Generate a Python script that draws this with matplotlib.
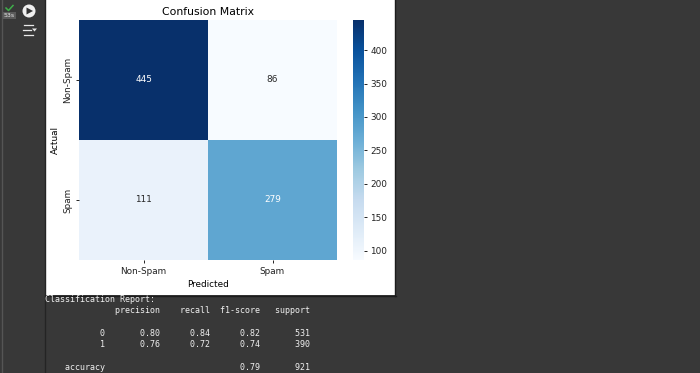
import matplotlib
matplotlib.use("Agg")
import matplotlib.pyplot as plt
from matplotlib.patches import Rectangle, Circle, Polygon
from matplotlib.lines import Line2D
import numpy as np
import seaborn as sns

labels = ["Non-Spam", "Spam"]
matrix = [[445, 86], [111, 279]]
title = "Confusion Matrix"
xlabel = "Predicted"
ylabel = "Actual"
report_lines = [
    "Classification Report:",
    "              precision    recall  f1-score   support",
    "",
    "           0       0.80      0.84      0.82       531",
    "           1       0.76      0.72      0.74       390",
    "",
    "    accuracy                           0.79       921",
]

W, H = 700, 373
BG = "#383838"
TXT = "#f0f0f0"
FS = 6.4

def X(px):
    return px / W

def Y(py):
    return 1 - py / H

fig = plt.figure(figsize=(7.0, 3.73), dpi=100, facecolor=BG)
fig.add_artist(Rectangle((X(45), Y(295)), 350 / W, 295 / H, transform=fig.transFigure,
                         facecolor="white", edgecolor="none", zorder=-1))
fig.add_artist(Line2D([X(395.5)] * 2, [Y(0), Y(296)], color="#1c1c1c", lw=1, zorder=-1))
fig.add_artist(Line2D([X(45), X(396)], [Y(295.5)] * 2, color="#1c1c1c", lw=1, zorder=-1))
fig.add_artist(Line2D([X(1.5)] * 2, [0, 1], color="#555555", lw=1))
fig.add_artist(Line2D([X(44.5)] * 2, [0, 1], color="#242424", lw=1))

ax = fig.add_axes([X(79), Y(260), 258 / W, 240 / H])
cax = fig.add_axes([X(353), Y(260), 11 / W, 240 / H])
sns.heatmap(np.array(matrix), annot=True, fmt="d", cmap="Blues", ax=ax, cbar_ax=cax,
            xticklabels=labels, yticklabels=labels, annot_kws={"size": FS})
ax.tick_params(labelsize=FS, length=2.5, width=0.7, pad=2.2, colors="#222222")
ax.set_title(title, fontsize=7.8, pad=3.5)
ax.set_xlabel(xlabel, fontsize=FS, labelpad=3.2)
ax.set_ylabel(ylabel, fontsize=FS, labelpad=2.8)
cax.tick_params(labelsize=FS, length=2.5, width=0.7, pad=2.2, colors="#222222")
ax.collections[0].colorbar.outline.set_visible(False)

for i, line in enumerate(report_lines):
    fig.text(X(45), Y(299.5 + i * 11.25), line, family="DejaVu Sans Mono", fontsize=6.0,
             color=TXT, va="center", ha="left")

# Notebook cell gutter
fig.add_artist(Circle((29 / 100, (H - 11) / 100), 0.065, transform=fig.dpi_scale_trans,
                      facecolor="#f0f0f0", edgecolor="none"))
fig.add_artist(Polygon([(X(26.5), Y(7.5)), (X(26.5), Y(14.5)), (X(33), Y(11))],
                       transform=fig.transFigure, facecolor="#333333", edgecolor="none"))
fig.add_artist(Line2D([X(6), X(8.5), X(13)], [Y(8), Y(10.5), Y(5.5)], color="#3fae4a", lw=1.1))
fig.text(X(9.5), Y(15.5), "53s", fontsize=4.5, color="#e8e8e8", ha="center", va="center",
         bbox=dict(facecolor="#5a5a5a", edgecolor="none", pad=0.4))
for py, x0, x1 in [(25, 24, 33), (30, 23, 31), (35, 24, 33)]:
    fig.add_artist(Line2D([X(x0), X(x1)], [Y(py)] * 2, color="#e8e8e8", lw=0.9))
fig.add_artist(Polygon([(X(32), Y(28.5)), (X(37), Y(28.5)), (X(34.5), Y(31.5))],
                       transform=fig.transFigure, facecolor="#e8e8e8", edgecolor="none"))

fig.savefig("out.png", dpi=100, facecolor=BG)
